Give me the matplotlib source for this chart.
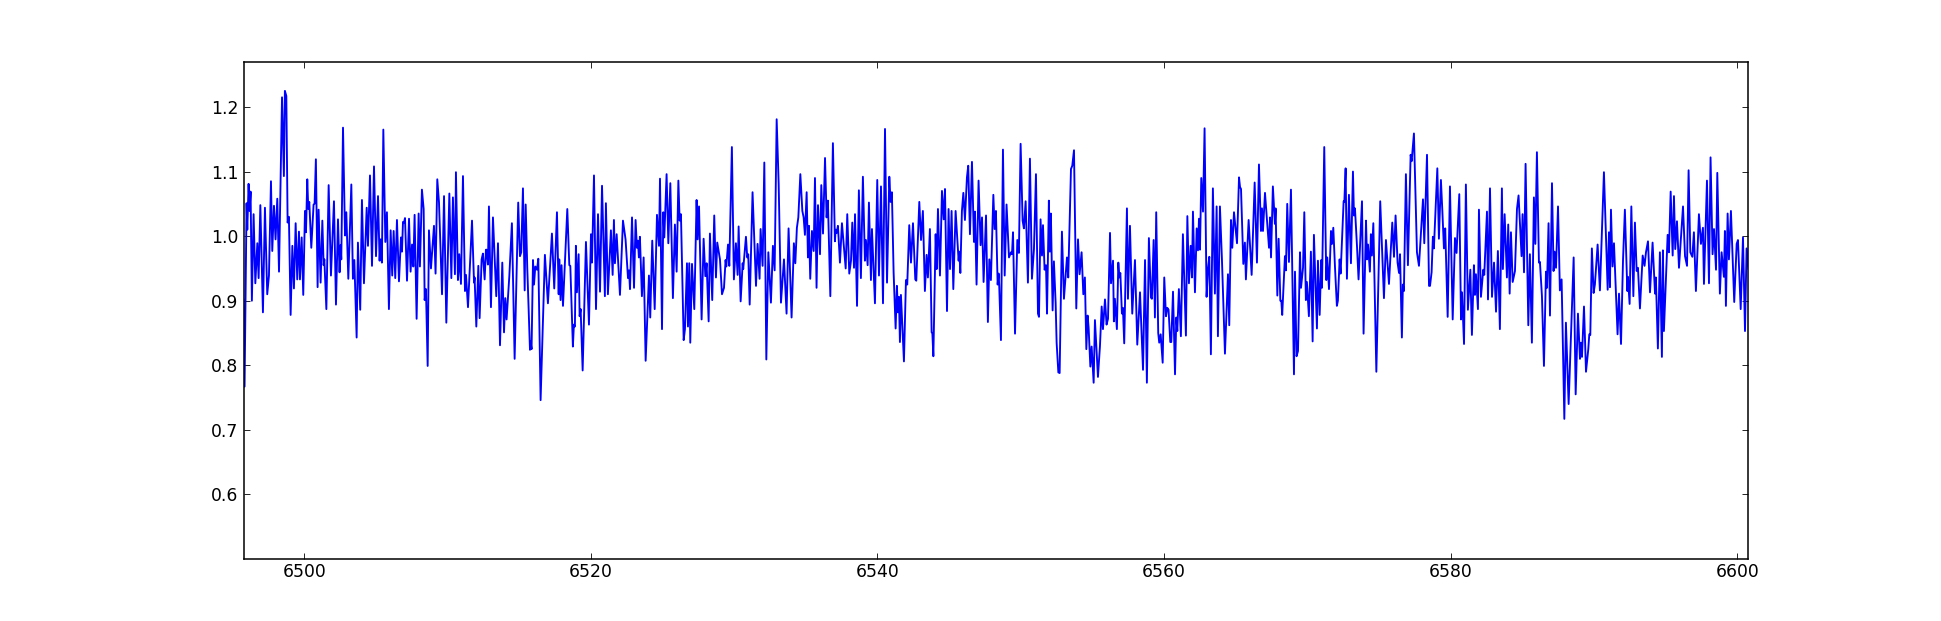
import numpy as np
import matplotlib
matplotlib.use("Agg")
import matplotlib.pyplot as plt

wave_a = [6495.75,6495.84,6495.98,6496.03,6496.12,6496.19,6496.26,6496.35,6496.47,6496.59,6496.73,6496.82,6496.94,6497.12,6497.26,6497.42,6497.54,6497.68,6497.77,6497.89,6498.00,6498.12,6498.24,6498.45,6498.58,6498.65,6498.75,6498.84,6498.93,6499.05,6499.17,6499.28,6499.40,6499.51,6499.63,6499.70,6499.82,6499.93,6500.05,6500.12,6500.21,6500.28,6500.35,6500.49,6500.65,6500.72,6500.81,6500.93,6501.00,6501.14,6501.26,6501.35,6501.40,6501.54,6501.70,6501.86,6502.07,6502.21,6502.35,6502.46,6502.53,6502.58,6502.70,6502.84,6502.93,6503.07,6503.28,6503.39,6503.49,6503.65,6503.74,6503.90,6504.02,6504.16,6504.35,6504.44,6504.58,6504.72,6504.86,6505.00,6505.14,6505.25,6505.32,6505.41,6505.51,6505.65,6505.76,6505.90,6506.02,6506.13,6506.23,6506.34,6506.46,6506.60,6506.74,6506.81,6506.88,6506.95,6507.02,6507.16,6507.30,6507.41,6507.51,6507.60,6507.69,6507.83,6507.97,6508.06,6508.20,6508.32,6508.39,6508.48,6508.60,6508.69,6508.83,6508.97,6509.04,6509.15,6509.27,6509.39,6509.60,6509.74,6509.90,6510.11,6510.25,6510.36,6510.50,6510.57,6510.71,6510.80,6510.92,6511.06,6511.20,6511.27,6511.41,6511.69,6511.83,6511.87,6511.99,6512.13,6512.22,6512.36,6512.45,6512.57,6512.66,6512.71,6512.80,6512.87,6513.01,6513.15]
flux_a = [.902,.767,1.051,1.010,1.081,1.039,1.069,.900,1.034,.927,.989,.935,1.048,.882,1.044,.910,.939,1.085,.977,1.047,.995,1.058,.945,1.215,1.093,1.225,1.217,1.021,1.030,.878,.985,.919,1.020,.933,1.007,.933,.998,.909,1.039,1.006,1.088,1.042,1.053,.982,1.049,1.050,1.119,.921,1.041,.928,1.024,.955,.964,.887,1.079,.939,1.054,.894,1.026,.944,.986,.964,1.168,1.001,1.037,.934,1.080,.934,.963,.843,.990,.886,1.056,.927,1.044,.985,1.094,.954,1.108,.969,1.062,.962,.995,.959,1.165,.991,1.037,.887,1.009,.939,1.008,.935,1.025,.930,.998,.976,1.022,1.021,1.028,.931,1.027,.945,.987,.953,1.033,.872,1.035,.953,1.072,1.042,.901,.918,.799,1.009,.950,.993,1.016,.942,1.088,1.052,.910,1.062,.866,1.066,.935,1.060,.941,1.099,.932,.972,.926,1.093,.915,.940,.890,1.024,.928,.936,.860,.954,.873,.964,.973,.933,.979,.979,.956,1.046,.890,1.029]

wave_b = [6513.38,6513.50,6513.64,6513.80,6513.92,6514.01,6514.10,6514.29,6514.47,6514.66,6514.91,6515.03,6515.12,6515.24,6515.36,6515.43,6515.54,6515.73,6515.77,6515.84,6515.94,6516.01,6516.10,6516.22,6516.31,6516.47,6516.77,6516.98,6517.26,6517.42,6517.61,6517.73,6517.77,6517.86,6517.93,6518.03,6518.33,6518.47,6518.54,6518.72,6518.79,6518.86,6518.93,6519.00,6519.12,6519.19,6519.26,6519.40,6519.63,6519.84,6519.98,6520.05,6520.19,6520.33,6520.47,6520.61,6520.75,6520.95,6521.02,6521.16,6521.37,6521.49,6521.58,6521.65,6521.77,6522.00,6522.21,6522.39,6522.56,6522.63,6522.70,6522.84,6522.98,6523.09,6523.18,6523.25,6523.32,6523.39,6523.53,6523.65,6523.79,6524.02,6524.11,6524.25,6524.42,6524.58,6524.72,6524.79,6524.93,6525.02,6525.09,6525.25,6525.37,6525.51,6525.69,6525.83,6525.95,6526.07,6526.16,6526.25,6526.44,6526.53,6526.67,6526.74,6526.83,6526.90,6527.02,6527.18,6527.34,6527.41,6527.51,6527.69,6527.83,6527.95,6528.04,6528.18,6528.27,6528.43,6528.57,6528.69,6528.78,6528.97,6529.11,6529.25,6529.36,6529.41,6529.53,6529.62,6529.80,6529.94,6530.08,6530.20,6530.27,6530.41,6530.55,6530.59,6530.78,6530.87,6530.94,6531.04]
flux_b = [.907,.989,.831,.959,.851,.904,.871,.938,1.020,.810,1.052,.969,.975,1.074,.916,1.049,.951,.824,.837,.825,.963,.925,.953,.948,.965,.746,.971,.896,1.004,.919,1.037,.910,.964,.901,.955,.892,1.042,.955,.954,.829,.863,.860,.985,.913,.972,.876,.887,.792,.991,.863,1.003,.959,1.094,.887,1.034,.914,1.078,.907,1.051,.910,1.009,.940,1.025,.958,1.003,.909,1.024,.995,.935,.947,.918,1.029,.920,1.025,.982,.993,.967,.999,.907,.967,.807,.939,.874,.993,.887,1.033,.985,1.089,.856,1.037,.998,1.096,.989,1.082,.904,1.018,.945,1.086,1.024,1.034,.839,.856,.958,.860,.958,.835,.957,.887,1.056,.995,1.046,.871,.996,.938,.958,.868,1.004,.901,1.032,.936,.990,.964,.910,.920,.963,.953,.987,.954,1.138,.933,.989,.940,1.015,.899,.958,.949,.999,.967,.972,.894]

wave_c = [6531.24,6531.48,6531.59,6531.73,6531.80,6531.94,6532.06,6532.20,6532.34,6532.52,6532.66,6532.78,6532.92,6533.06,6533.22,6533.43,6533.61,6533.75,6533.96,6534.12,6534.22,6534.33,6534.43,6534.57,6534.71,6534.80,6534.89,6535.01,6535.10,6535.17,6535.26,6535.38,6535.50,6535.59,6535.70,6535.80,6535.94,6536.03,6536.15,6536.29,6536.40,6536.49,6536.66,6536.84,6536.98,6537.03,6537.10,6537.19,6537.33,6537.47,6537.73,6537.84,6537.98,6538.10,6538.19,6538.31,6538.38,6538.52,6538.65,6538.79,6538.93,6539.07,6539.14,6539.26,6539.35,6539.49,6539.56,6539.77,6539.93,6540.05,6540.19,6540.33,6540.47,6540.61,6540.77,6540.86,6540.95,6541.07,6541.21,6541.30,6541.37,6541.44,6541.51,6541.58,6541.79,6541.93,6542.02,6542.16,6542.28,6542.42,6542.58,6542.65,6542.86,6542.98,6543.11,6543.25,6543.37,6543.46,6543.60,6543.72,6543.77,6543.84,6544.00,6544.07,6544.16,6544.30,6544.44,6544.56,6544.65,6544.79,6544.90,6545.00,6545.11,6545.23,6545.39,6545.60,6545.65,6545.72,6545.83,6545.93,6546.04,6546.18,6546.27,6546.39,6546.53,6546.67,6546.74,6546.85,6546.99,6547.13,6547.23,6547.34,6547.51,6547.64,6547.74,6547.85,6548.02,6548.11,6548.20,6548.32,6548.39,6548.43,6548.55,6548.69,6548.81]
flux_c = [1.068,.923,.988,.934,1.011,.954,1.114,.809,.975,.897,.985,.947,1.181,1.081,.897,.964,.880,1.012,.874,.989,.958,1.013,1.029,1.096,1.039,1.029,1.002,1.068,.967,1.016,.934,1.008,.977,1.090,.920,1.048,.972,1.079,1.004,1.121,1.029,1.055,.907,1.144,.992,1.010,1.005,1.016,.959,1.020,.950,1.034,.942,.962,1.021,.951,1.034,.892,1.071,.935,1.092,.962,.994,.955,1.052,.932,1.011,.896,1.087,.939,1.077,.896,1.166,.928,1.092,1.053,1.068,.944,.857,.923,.882,.906,.836,.909,.806,.932,.925,1.017,.959,1.020,.933,.931,1.053,.994,1.039,.915,.971,.936,1.011,.851,.850,.814,1.003,.949,1.042,.939,1.070,1.026,1.073,.884,1.042,.949,1.039,.918,1.039,.962,.976,.943,1.039,1.067,1.025,1.091,1.109,1.003,1.115,.991,1.038,.925,1.086,.986,1.029,.929,1.032,.867,.964,.932,1.064,1.011,1.039,.925,.942,.923,.839,1.134,.939]

wave_d = [6548.94,6549.11,6549.25,6549.32,6549.39,6549.53,6549.69,6549.80,6549.92,6550.06,6550.15,6550.27,6550.43,6550.57,6550.71,6550.85,6550.99,6551.13,6551.20,6551.31,6551.41,6551.48,6551.59,6551.69,6551.76,6551.89,6551.96,6552.03,6552.15,6552.24,6552.36,6552.43,6552.55,6552.64,6552.80,6552.94,6553.15,6553.24,6553.43,6553.52,6553.64,6553.80,6553.92,6554.03,6554.17,6554.29,6554.40,6554.50,6554.59,6554.66,6554.78,6554.87,6555.01,6555.10,6555.31,6555.45,6555.57,6555.66,6555.80,6555.91,6556.01,6556.15,6556.22,6556.36,6556.42,6556.49,6556.63,6556.73,6556.80,6556.87,6556.98,6557.05,6557.14,6557.33,6557.40,6557.54,6557.70,6557.89,6558.05,6558.24,6558.45,6558.59,6558.72,6558.86,6559.00,6559.07,6559.19,6559.28,6559.37,6559.51,6559.58,6559.68,6559.82,6559.93,6560.05,6560.14,6560.23,6560.35,6560.42,6560.54,6560.68,6560.77,6560.84,6560.95,6561.09,6561.23,6561.44,6561.54,6561.65,6561.77,6561.86,6561.93,6562.07,6562.19,6562.28,6562.35,6562.42,6562.51,6562.63,6562.74,6562.88,6562.98,6563.07,6563.18,6563.32,6563.46,6563.58,6563.67,6563.81,6563.95,6564.16,6564.37,6564.46,6564.58,6564.67,6564.79,6565.00,6565.14,6565.21,6565.28,6565.44,6565.55,6565.62,6565.81,6566.02,6566.23,6566.39,6566.53]
flux_d = [1.049,.967,.975,.972,1.006,.849,.994,.974,1.143,1.024,1.012,1.054,.928,1.120,.934,.980,1.096,.880,.875,1.026,.970,1.017,.948,.955,.880,1.055,.976,1.035,.885,.961,.897,.835,.789,.788,1.007,.903,.967,.936,1.104,1.109,1.133,.888,.995,.941,.975,.910,.936,.825,.877,.858,.798,.829,.773,.870,.782,.830,.891,.856,.902,.863,.872,1.005,.927,.962,.868,.903,.856,.959,.936,.943,.880,.889,.834,1.043,.903,1.016,.880,.963,.832,.913,.793,.963,.773,.997,.905,.903,.994,.874,1.037,.850,.835,.848,.804,.936,.876,.889,.886,.836,.836,.914,.786,.874,.853,.918,.845,1.003,.846,1.031,.927,.985,.936,1.038,.913,1.012,.978,1.027,.979,1.090,1.038,1.167,.906,.950,.968,.817,1.074,.911,1.046,.845,1.046,.964,.818,.941,.862,1.025,.982,1.037,.989,1.091,1.076,1.073,.957,.990,.933,1.025,.940,1.083,.959,1.111]

wave_e = [6566.67,6566.74,6566.81,6566.95,6567.09,6567.23,6567.30,6567.37,6567.50,6567.64,6567.69,6567.81,6567.90,6568.02,6568.09,6568.15,6568.34,6568.41,6568.50,6568.62,6568.76,6568.97,6569.04,6569.15,6569.25,6569.39,6569.46,6569.60,6569.69,6569.80,6569.87,6570.01,6570.15,6570.27,6570.36,6570.57,6570.64,6570.76,6570.87,6570.92,6571.08,6571.22,6571.29,6571.41,6571.55,6571.62,6571.71,6571.83,6571.96,6572.03,6572.15,6572.22,6572.43,6572.48,6572.57,6572.66,6572.80,6572.94,6573.08,6573.15,6573.22,6573.36,6573.47,6573.71,6573.82,6573.99,6574.06,6574.13,6574.26,6574.33,6574.40,6574.50,6574.71,6574.98,6575.24,6575.38,6575.59,6575.82,6575.94,6576.05,6576.19,6576.29,6576.36,6576.49,6576.56,6576.63,6576.77,6576.91,6577.10,6577.17,6577.33,6577.54,6577.68,6577.96,6578.05,6578.24,6578.38,6578.45,6578.56,6578.65,6578.72,6578.96,6579.07,6579.21,6579.31,6579.42,6579.51,6579.68,6579.84,6580.03,6580.19,6580.30,6580.49,6580.61,6580.68,6580.82,6580.95,6581.09,6581.26,6581.37,6581.51,6581.58,6581.65,6581.79,6581.86,6582.00,6582.16,6582.23,6582.42,6582.49,6582.63,6582.77,6582.91,6583.05,6583.18,6583.32,6583.46,6583.53,6583.65,6583.81,6583.90,6584.00,6584.09,6584.21]
flux_e = [1.008,1.043,1.008,1.067,1.024,.982,1.029,.967,1.077,1.019,1.043,.908,.996,.900,.900,.878,.969,.947,1.050,.960,1.072,.786,.945,.814,.822,.975,.920,.951,1.037,.901,.929,.876,.976,.837,1.002,.857,.962,.878,.963,.920,1.138,.932,.967,.918,1.008,.988,1.013,.951,.892,.900,.964,.942,1.054,1.053,1.105,.934,1.064,.958,1.100,1.032,1.043,.985,.933,1.054,.849,1.024,.964,.987,.945,1.003,.970,1.020,.790,1.054,.904,.994,.926,1.021,.968,1.032,.959,.943,.972,.843,.925,.915,1.096,.955,1.126,1.116,1.159,.975,.954,1.057,.989,1.126,.923,.923,.944,.999,.981,1.105,.996,1.087,1.039,.981,1.012,.875,1.077,.871,.997,.974,1.065,.871,.913,.833,1.080,.886,.948,.847,.955,.909,.941,.887,1.041,.906,.948,.940,1.038,.902,1.074,.906,.959,.883,.977,.856,1.074,.949,1.034,.936,1.018,.911,1.006,.929]

wave_f = [6584.37,6584.51,6584.62,6584.83,6584.90,6585.00,6585.11,6585.30,6585.41,6585.55,6585.69,6585.79,6585.90,6586.04,6586.11,6586.25,6586.39,6586.53,6586.60,6586.71,6586.81,6586.95,6587.06,6587.13,6587.23,6587.37,6587.50,6587.62,6587.81,6587.92,6588.11,6588.46,6588.60,6588.76,6588.90,6588.97,6589.04,6589.18,6589.32,6589.48,6589.55,6589.62,6589.73,6589.85,6589.94,6590.13,6590.29,6590.57,6590.83,6590.92,6590.99,6591.06,6591.17,6591.27,6591.52,6591.62,6591.76,6591.90,6592.03,6592.20,6592.24,6592.36,6592.48,6592.62,6592.73,6592.85,6592.94,6593.08,6593.27,6593.40,6593.50,6593.64,6593.78,6593.96,6594.13,6594.19,6594.33,6594.47,6594.61,6594.68,6594.75,6595.01,6595.10,6595.22,6595.36,6595.45,6595.54,6595.66,6595.80,6596.08,6596.22,6596.36,6596.47,6596.59,6596.73,6596.84,6596.98,6597.19,6597.33,6597.47,6597.54,6597.75,6597.89,6598.00,6598.14,6598.24,6598.38,6598.47,6598.65,6598.77,6598.93,6599.00,6599.07,6599.19,6599.28,6599.42,6599.65,6599.82,6599.91,6600.10,6600.26,6600.40,6600.51,6600.65]
flux_f = [.946,1.042,1.063,.969,1.034,.944,1.112,.862,.972,.835,1.060,.988,1.130,.959,.960,.907,.799,.945,.920,1.020,.877,1.082,.946,.976,.951,1.046,.916,.933,.717,.866,.740,.967,.755,.880,.810,.835,.813,.891,.790,.825,.848,.847,.981,.912,.925,.987,.916,1.099,.917,1.006,.921,1.041,.953,.989,.848,.911,.833,.963,1.041,.915,.937,.895,1.046,.907,1.021,.946,.951,.888,.970,.954,.975,.992,.913,.990,.911,.936,.826,.975,.813,.978,.853,1.002,.975,1.069,.970,1.062,.980,1.023,.951,1.046,.969,.954,1.102,.975,.968,1.006,.915,1.034,.988,1.013,.926,1.086,.927,1.122,.972,1.011,.948,1.098,.911,.975,.937,1.008,.892,1.035,.964,1.039,.898,.988,.994,.887,.998,.853,.981,.949]

x_ticks = [6500, 6520, 6540, 6560, 6580, 6600]
y_ticks = [0.6, 0.7, 0.8, 0.9, 1.0, 1.1, 1.2]

pairs = [(wave_a, flux_a), (wave_b, flux_b), (wave_c, flux_c), (wave_d, flux_d), (wave_e, flux_e), (wave_f, flux_f)]
wave = np.concatenate([w for w, _ in pairs])
flux = np.concatenate([f for _, f in pairs])
# the wavelengths above were read with a scale 0.14 % too coarse
wave = 6500 + (wave - 6500) * 14.35 / 14.33

fig = plt.figure(figsize=(19.41, 6.21), dpi=100, facecolor="white")
W, H = 1941, 621
ax = fig.add_axes([243.5 / W, 1 - 559.0 / H, (1748 - 243.5) / W, (559.0 - 61.8) / H])
ax.plot(wave, flux, color="#0000ff", linewidth=1.35)
ax.set_xlim(6495.76, 6600.75)
ax.set_ylim(0.5, 1.27)
ax.set_xticks(x_ticks)
ax.set_yticks(y_ticks)
ax.set_yticklabels([f"{v:.1f}" for v in y_ticks])
ax.tick_params(direction="in", top=True, right=True, length=4, width=0.6, labelsize=12.4)
ax.tick_params(axis="y", pad=3.6)
ax.tick_params(axis="x", pad=3.0)
for s in ax.spines.values():
    s.set_linewidth(1.1)
fig.savefig("out.png", dpi=100)
